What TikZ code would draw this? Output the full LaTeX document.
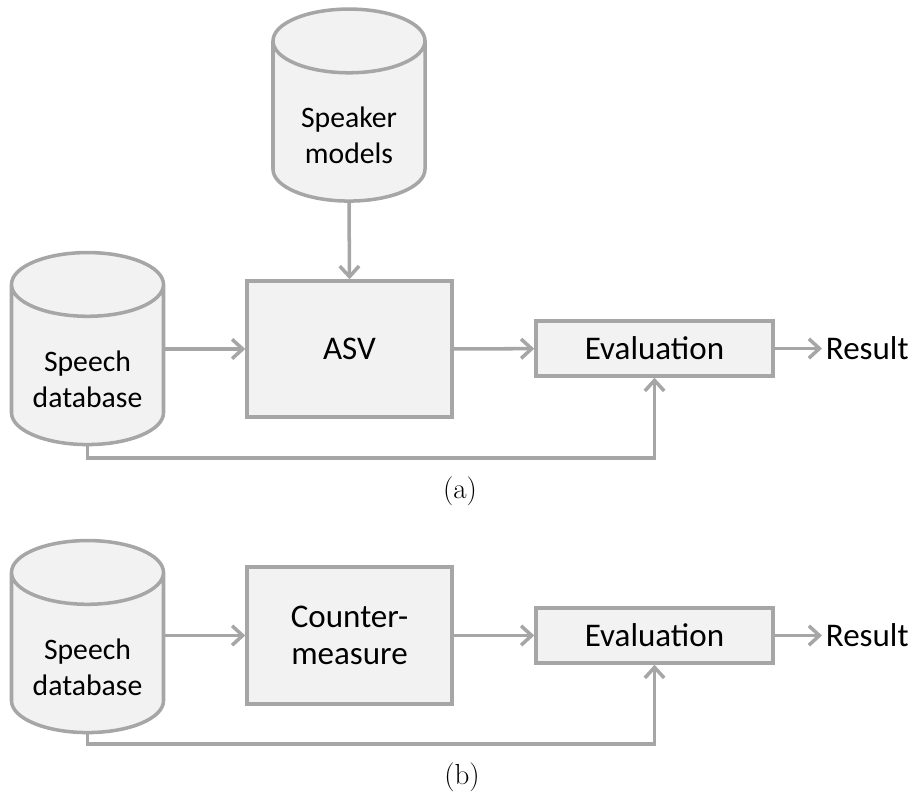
\documentclass[tikz,border=0pt]{standalone}
\usepackage{fontspec}
\newfontfamily\calfont{Carlito}
\usepackage{tikz}
\usetikzlibrary{arrows.meta,shapes.geometric}

\definecolor{linegray}{HTML}{A6A6A6}
\definecolor{boxfill}{HTML}{F2F2F2}

\begin{document}
\begin{tikzpicture}[
    txt/.style={font=\calfont\fontsize{18.8}{21}\selectfont, align=center},
    store/.style={draw=linegray, fill=boxfill, line width=2pt, cylinder, shape border rotate=90, aspect=0.42, text width=2.8cm, minimum width=3.04cm, minimum height=3.84cm},
    storetext/.style={font=\calfont\fontsize{16.9}{20.5}\selectfont, align=center, yshift=-0.15cm},
    block/.style={txt, draw=linegray, fill=boxfill, line width=2pt, rectangle, inner sep=0pt},
    wire/.style={linegray, line width=2pt, -{Straight Barb[length=6pt,width=11pt]}},
    caption/.style={font=\fontsize{16.5}{20}\selectfont}
]
\useasboundingbox (0,0) rectangle (18.34,-15.84);

% (a) ASV evaluation
\node[store, label={[storetext, name=spktext]center:Speaker\\models}] (spk) at (6.98, -2.56) {};
\node[store, label={[storetext, name=dbAtext]center:Speech\\database}] (dbA) at (1.75, -7.43) {};
\node[block, minimum width=4.1cm, minimum height=2.72cm] (asv) at (6.99, -6.98) {ASV};
\node[block, minimum width=4.74cm, minimum height=1.1cm] (evalA) at (13.09, -6.97) {Evaluation};
\node[txt, anchor=west, inner sep=2pt] (resA) at (16.44, -6.97) {Result};
\coordinate (lowA) at (1.75, -9.16);

\draw[wire] (spk.south) -- (asv.north);
\draw[wire] (dbA.east |- asv) -- (asv);
\draw[wire] (asv) -- (evalA);
\draw[wire] (evalA) -- (resA);
\draw[wire] (dbA.south) -- (lowA) -| (evalA.south);

\node[caption] (capA) at (9.2, -9.82) {(a)};

% (b) countermeasure evaluation
\node[store, label={[storetext, name=dbBtext]center:Speech\\database}] (dbB) at (1.75, -13.19) {};
\node[block, minimum width=4.1cm, minimum height=2.74cm] (cm) at (6.99, -12.71) {Counter-\\measure};
\node[block, minimum width=4.74cm, minimum height=1.1cm] (evalB) at (13.09, -12.71) {Evaluation};
\node[txt, anchor=west, inner sep=2pt] (resB) at (16.44, -12.71) {Result};
\coordinate (lowB) at (1.75, -14.88);

\draw[wire] (dbB.east |- cm) -- (cm);
\draw[wire] (cm) -- (evalB);
\draw[wire] (evalB) -- (resB);
\draw[wire] (dbB.south) -- (lowB) -| (evalB.south);

\node[caption] (capB) at (9.24, -15.54) {(b)};

\end{tikzpicture}
\end{document}
